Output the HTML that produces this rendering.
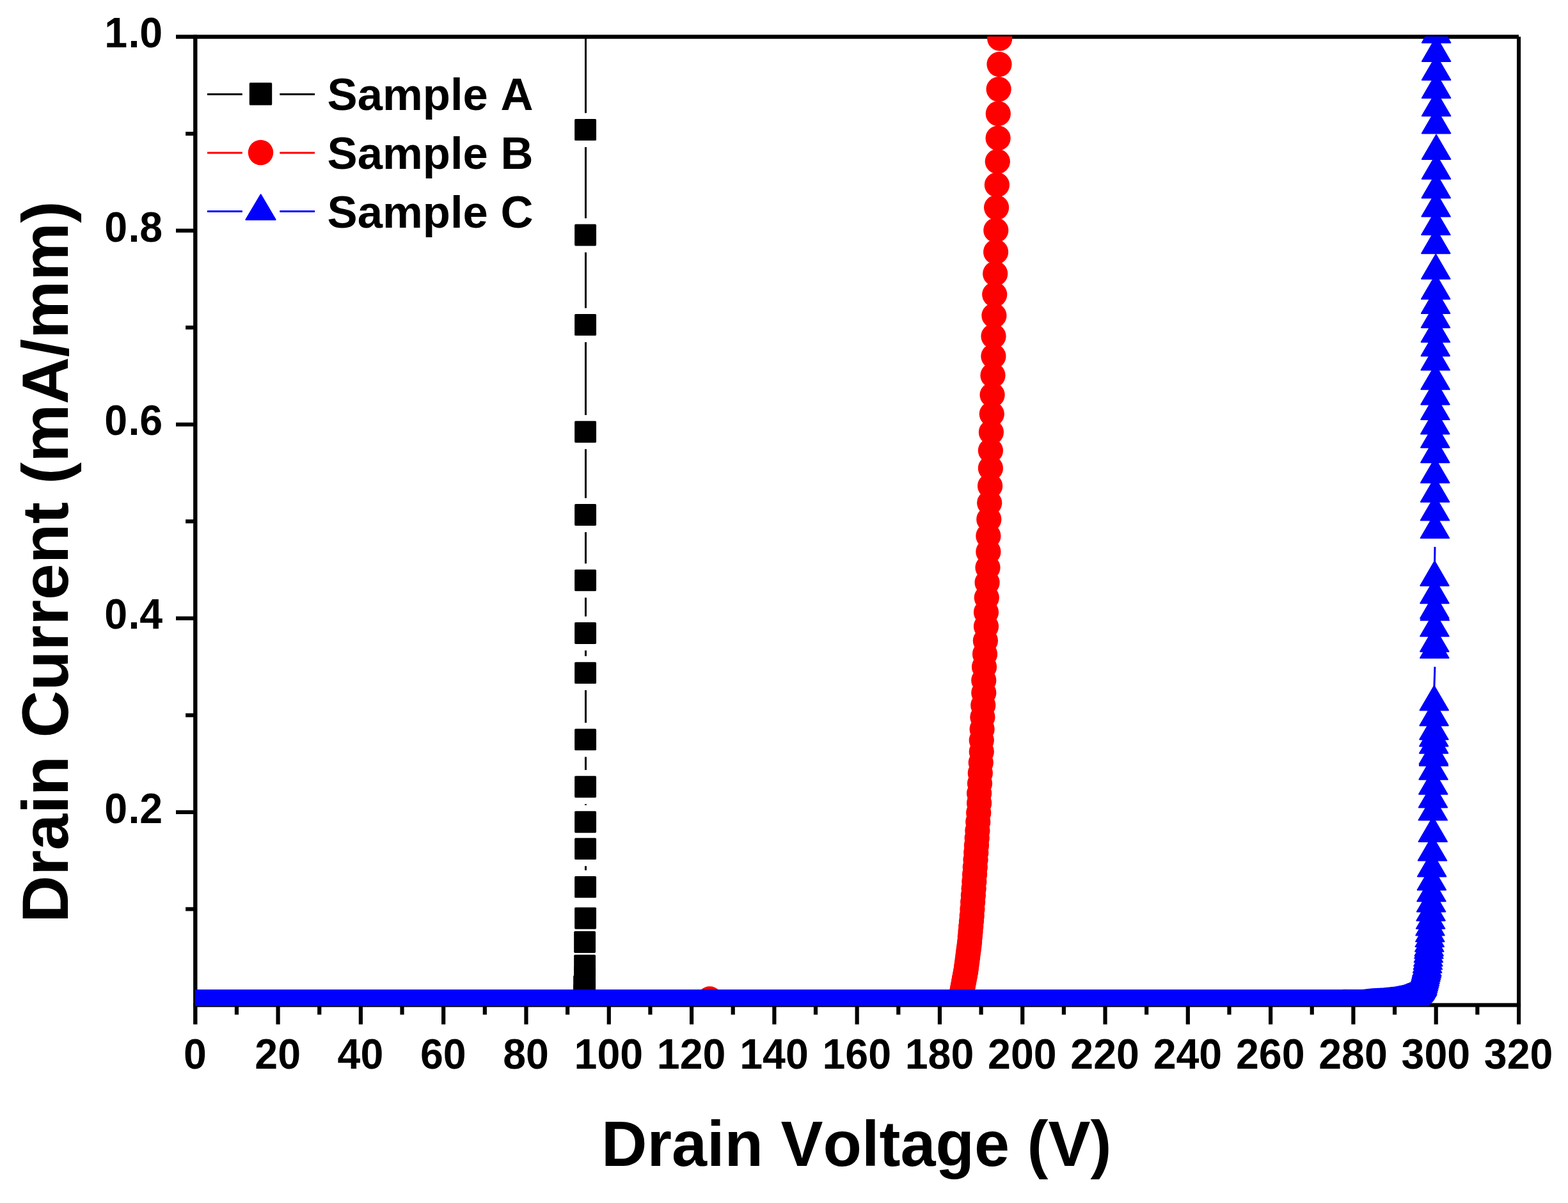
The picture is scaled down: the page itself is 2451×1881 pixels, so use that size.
<!DOCTYPE html>
<html lang="en"><head><meta charset="utf-8"><title>Drain Current vs Drain Voltage</title>
<style>html,body{margin:0;padding:0;background:#fff}svg{display:block}text{font-family:"Liberation Sans",Arial,Helvetica,sans-serif;font-weight:bold;fill:#000;font-kerning:none;font-variant-ligatures:none}</style>
</head><body>
<svg width="2451" height="1881" viewBox="0 0 2451 1881">
<rect width="2451" height="1881" fill="#fff"/>
<defs><clipPath id="c"><rect x="305.0" y="57.0" width="2071.0" height="1516.0"/></clipPath></defs>
<g fill="#000">
<rect x="275" y="54.35" width="2099" height="6.35"/>
<rect x="302.1" y="54.5" width="6.4" height="1547.2"/>
<rect x="302.15" y="1568.4" width="2074.95" height="6.2"/>
<rect x="2371" y="57.4" width="6.1" height="1544.3"/>
<rect x="366.85" y="1571.5" width="6.2" height="15"/>
<rect x="431.49" y="1571.5" width="6.2" height="30.2"/>
<rect x="496.14" y="1571.5" width="6.2" height="15"/>
<rect x="560.79" y="1571.5" width="6.2" height="30.2"/>
<rect x="625.43" y="1571.5" width="6.2" height="15"/>
<rect x="690.08" y="1571.5" width="6.2" height="30.2"/>
<rect x="754.73" y="1571.5" width="6.2" height="15"/>
<rect x="819.37" y="1571.5" width="6.2" height="30.2"/>
<rect x="884.02" y="1571.5" width="6.2" height="15"/>
<rect x="948.67" y="1571.5" width="6.2" height="30.2"/>
<rect x="1013.32" y="1571.5" width="6.2" height="15"/>
<rect x="1077.96" y="1571.5" width="6.2" height="30.2"/>
<rect x="1142.61" y="1571.5" width="6.2" height="15"/>
<rect x="1207.26" y="1571.5" width="6.2" height="30.2"/>
<rect x="1271.9" y="1571.5" width="6.2" height="15"/>
<rect x="1336.55" y="1571.5" width="6.2" height="30.2"/>
<rect x="1401.2" y="1571.5" width="6.2" height="15"/>
<rect x="1465.84" y="1571.5" width="6.2" height="30.2"/>
<rect x="1530.49" y="1571.5" width="6.2" height="15"/>
<rect x="1595.14" y="1571.5" width="6.2" height="30.2"/>
<rect x="1659.78" y="1571.5" width="6.2" height="15"/>
<rect x="1724.43" y="1571.5" width="6.2" height="30.2"/>
<rect x="1789.08" y="1571.5" width="6.2" height="15"/>
<rect x="1853.72" y="1571.5" width="6.2" height="30.2"/>
<rect x="1918.37" y="1571.5" width="6.2" height="15"/>
<rect x="1983.02" y="1571.5" width="6.2" height="30.2"/>
<rect x="2047.67" y="1571.5" width="6.2" height="15"/>
<rect x="2112.31" y="1571.5" width="6.2" height="30.2"/>
<rect x="2176.96" y="1571.5" width="6.2" height="15"/>
<rect x="2241.61" y="1571.5" width="6.2" height="30.2"/>
<rect x="2306.25" y="1571.5" width="6.2" height="15"/>
<rect x="290.1" y="1418.4" width="15.2" height="6.1"/>
<rect x="275" y="1266.85" width="30.3" height="6.1"/>
<rect x="290.1" y="1115.3" width="15.2" height="6.1"/>
<rect x="275" y="963.75" width="30.3" height="6.1"/>
<rect x="290.1" y="812.2" width="15.2" height="6.1"/>
<rect x="275" y="660.65" width="30.3" height="6.1"/>
<rect x="290.1" y="509.1" width="15.2" height="6.1"/>
<rect x="275" y="357.55" width="30.3" height="6.1"/>
<rect x="290.1" y="206" width="15.2" height="6.1"/>
</g>
<text transform="translate(304.9 1671) scale(1 1.045)" font-size="64.5" text-anchor="middle">0</text>
<text transform="translate(434.19 1671) scale(1 1.045)" font-size="64.5" text-anchor="middle">20</text>
<text transform="translate(563.49 1671) scale(1 1.045)" font-size="64.5" text-anchor="middle">40</text>
<text transform="translate(692.78 1671) scale(1 1.045)" font-size="64.5" text-anchor="middle">60</text>
<text transform="translate(822.07 1671) scale(1 1.045)" font-size="64.5" text-anchor="middle">80</text>
<text transform="translate(951.37 1671) scale(1 1.045)" font-size="64.5" text-anchor="middle">100</text>
<text transform="translate(1080.66 1671) scale(1 1.045)" font-size="64.5" text-anchor="middle">120</text>
<text transform="translate(1209.96 1671) scale(1 1.045)" font-size="64.5" text-anchor="middle">140</text>
<text transform="translate(1339.25 1671) scale(1 1.045)" font-size="64.5" text-anchor="middle">160</text>
<text transform="translate(1468.54 1671) scale(1 1.045)" font-size="64.5" text-anchor="middle">180</text>
<text transform="translate(1597.84 1671) scale(1 1.045)" font-size="64.5" text-anchor="middle">200</text>
<text transform="translate(1727.13 1671) scale(1 1.045)" font-size="64.5" text-anchor="middle">220</text>
<text transform="translate(1856.42 1671) scale(1 1.045)" font-size="64.5" text-anchor="middle">240</text>
<text transform="translate(1985.72 1671) scale(1 1.045)" font-size="64.5" text-anchor="middle">260</text>
<text transform="translate(2115.01 1671) scale(1 1.045)" font-size="64.5" text-anchor="middle">280</text>
<text transform="translate(2244.31 1671) scale(1 1.045)" font-size="64.5" text-anchor="middle">300</text>
<text transform="translate(2373.6 1671) scale(1 1.045)" font-size="64.5" text-anchor="middle">320</text>
<text transform="translate(254.2 1286.7) scale(1 1.045)" font-size="64.5" text-anchor="end" dx="0 1.2 0">0.2</text>
<text transform="translate(254.2 982.9) scale(1 1.045)" font-size="64.5" text-anchor="end" dx="0 1.2 0">0.4</text>
<text transform="translate(254.2 679.9) scale(1 1.045)" font-size="64.5" text-anchor="end" dx="0 1.2 0">0.6</text>
<text transform="translate(254.2 378) scale(1 1.045)" font-size="64.5" text-anchor="end" dx="0 1.2 0">0.8</text>
<text transform="translate(254.2 74) scale(1 1.045)" font-size="64.5" text-anchor="end" dx="0 1.2 0">1.0</text>
<text transform="translate(940 1822.9) scale(1 1.005)" font-size="99.0" text-anchor="start">Drain Voltage (V)</text>
<text transform="translate(105.9 1442.8) rotate(-90) scale(1 1.005)" font-size="102.07" text-anchor="start">Drain Current (mA/mm)</text>
<g clip-path="url(#c)">
<g fill="#000">
<rect x="914" y="-172.9" width="3.0" height="349.6"/>
<rect x="914" y="230" width="3.0" height="111.3"/>
<rect x="914" y="394.6" width="3.0" height="87.1"/>
<rect x="914" y="535" width="3.0" height="114"/>
<rect x="914" y="702.3" width="3.0" height="76.5"/>
<rect x="914" y="832.1" width="3.0" height="49.1"/>
<rect x="914" y="934.5" width="3.0" height="29.3"/>
<rect x="914" y="1017.1" width="3.0" height="8.8"/>
<rect x="914" y="1079.2" width="3.0" height="51"/>
<rect x="914" y="1183.5" width="3.0" height="20.5"/>
<rect x="914" y="1257.3" width="3.0" height="1.7"/>
<rect x="914" y="1354.2" width="3.0" height="6.5"/>
<rect x="898.15" y="185.95" width="33.9" height="33.9" rx="1.6"/>
<rect x="898.15" y="350.55" width="33.9" height="33.9" rx="1.6"/>
<rect x="898.15" y="490.95" width="33.9" height="33.9" rx="1.6"/>
<rect x="898.15" y="658.25" width="33.9" height="33.9" rx="1.6"/>
<rect x="898.15" y="788.05" width="33.9" height="33.9" rx="1.6"/>
<rect x="898.15" y="890.45" width="33.9" height="33.9" rx="1.6"/>
<rect x="898.15" y="973.05" width="33.9" height="33.9" rx="1.6"/>
<rect x="898.15" y="1035.15" width="33.9" height="33.9" rx="1.6"/>
<rect x="898.15" y="1139.45" width="33.9" height="33.9" rx="1.6"/>
<rect x="898.15" y="1213.25" width="33.9" height="33.9" rx="1.6"/>
<rect x="898.15" y="1268.25" width="33.9" height="33.9" rx="1.6"/>
<rect x="898.15" y="1310.15" width="33.9" height="33.9" rx="1.6"/>
<rect x="898.15" y="1369.95" width="33.9" height="33.9" rx="1.6"/>
<rect x="898.15" y="1418.75" width="33.9" height="33.9" rx="1.6"/>
<rect x="897.15" y="1456.05" width="33.9" height="33.9" rx="1.6"/>
<rect x="897.15" y="1492.85" width="33.9" height="33.9" rx="1.6"/>
<rect x="897.15" y="1511.05" width="33.9" height="33.9" rx="1.6"/>
<rect x="896.15" y="1525.05" width="33.9" height="33.9" rx="1.6"/>
<rect x="897.15" y="1533.05" width="33.9" height="33.9" rx="1.6"/>
<rect x="896.15" y="1539.05" width="33.9" height="33.9" rx="1.6"/>
</g>
<g fill="#f00">
<circle cx="1562.7" cy="60.2" r="19.6"/>
<circle cx="1562" cy="100.6" r="19.6"/>
<circle cx="1561.1" cy="139.6" r="19.6"/>
<circle cx="1560.3" cy="177.7" r="19.6"/>
<circle cx="1560.1" cy="216" r="19.6"/>
<circle cx="1559.3" cy="252.5" r="19.6"/>
<circle cx="1558.4" cy="289" r="19.6"/>
<circle cx="1557.6" cy="324.6" r="19.6"/>
<circle cx="1556.8" cy="360" r="19.6"/>
<circle cx="1556.6" cy="393.9" r="19.6"/>
<circle cx="1555.7" cy="427.9" r="19.6"/>
<circle cx="1554.7" cy="460.6" r="19.6"/>
<circle cx="1553.9" cy="493.5" r="19.6"/>
<circle cx="1553" cy="525.8" r="19.6"/>
<circle cx="1552.9" cy="557.1" r="19.6"/>
<circle cx="1552" cy="586.9" r="19.6"/>
<circle cx="1551.1" cy="617.5" r="19.6"/>
<circle cx="1550.3" cy="647.3" r="19.6"/>
<circle cx="1549.4" cy="675.8" r="19.6"/>
<circle cx="1548.4" cy="704.5" r="19.6"/>
<circle cx="1548.4" cy="732.1" r="19.6"/>
<circle cx="1547.6" cy="759.8" r="19.6"/>
<circle cx="1546.7" cy="786.3" r="19.6"/>
<circle cx="1545.8" cy="812.1" r="19.6"/>
<circle cx="1544.9" cy="837.9" r="19.6"/>
<circle cx="1544.9" cy="862.7" r="19.6"/>
<circle cx="1544" cy="887.5" r="19.6"/>
<circle cx="1543.1" cy="910.8" r="19.6"/>
<circle cx="1542.3" cy="934.6" r="19.6"/>
<circle cx="1541.5" cy="957.3" r="19.6"/>
<circle cx="1541.5" cy="979.4" r="19.6"/>
<circle cx="1540.4" cy="1001.7" r="19.6"/>
<circle cx="1539.5" cy="1022.7" r="19.6"/>
<circle cx="1538.5" cy="1042.7" r="19.6"/>
<circle cx="1537.75" cy="1063.8" r="19.6"/>
<circle cx="1537.75" cy="1083.3" r="19.6"/>
<circle cx="1536.75" cy="1102.8" r="19.6"/>
<circle cx="1535.9" cy="1121.3" r="19.6"/>
<circle cx="1535.1" cy="1140" r="19.6"/>
<circle cx="1534.25" cy="1157.5" r="19.6"/>
<circle cx="1534.25" cy="1175.3" r="19.6"/>
<circle cx="1533.25" cy="1192.5" r="19.6"/>
<circle cx="1532.3" cy="1208.7" r="19.6"/>
<circle cx="1531.5" cy="1225" r="19.6"/>
<circle cx="1530.6" cy="1240.5" r="19.6"/>
<circle cx="1530.6" cy="1255.8" r="19.6"/>
<circle cx="1529.7" cy="1270.8" r="19.6"/>
<circle cx="1528.75" cy="1285" r="19.6"/>
<circle cx="1527.9" cy="1298.7" r="19.6"/>
<circle cx="1527.18" cy="1310.48" r="19.6"/>
<circle cx="1526.45" cy="1321.82" r="19.6"/>
<circle cx="1525.73" cy="1333.1" r="19.6"/>
<circle cx="1525" cy="1344.39" r="19.6"/>
<circle cx="1524.28" cy="1355.67" r="19.6"/>
<circle cx="1523.55" cy="1366.96" r="19.6"/>
<circle cx="1522.83" cy="1378.24" r="19.6"/>
<circle cx="1522.1" cy="1389.18" r="19.6"/>
<circle cx="1521.38" cy="1399.84" r="19.6"/>
<circle cx="1520.65" cy="1410.51" r="19.6"/>
<circle cx="1519.93" cy="1421.17" r="19.6"/>
<circle cx="1519.2" cy="1431.83" r="19.6"/>
<circle cx="1518.48" cy="1440.34" r="19.6"/>
<circle cx="1517.75" cy="1448.51" r="19.6"/>
<circle cx="1517.03" cy="1456.69" r="19.6"/>
<circle cx="1516.3" cy="1464.86" r="19.6"/>
<circle cx="1515.58" cy="1473.03" r="19.6"/>
<circle cx="1514.85" cy="1479.25" r="19.6"/>
<circle cx="1514.13" cy="1484.85" r="19.6"/>
<circle cx="1513.4" cy="1490.44" r="19.6"/>
<circle cx="1512.68" cy="1496.04" r="19.6"/>
<circle cx="1511.95" cy="1501.64" r="19.6"/>
<circle cx="1511.23" cy="1507.24" r="19.6"/>
<circle cx="1510.5" cy="1512.84" r="19.6"/>
<circle cx="1509.78" cy="1517.91" r="19.6"/>
<circle cx="1509.05" cy="1521.79" r="19.6"/>
<circle cx="1508.33" cy="1525.67" r="19.6"/>
<circle cx="1507.6" cy="1529.56" r="19.6"/>
<circle cx="1506.88" cy="1533.44" r="19.6"/>
<circle cx="1506.15" cy="1537.32" r="19.6"/>
<circle cx="1505.43" cy="1541.21" r="19.6"/>
<circle cx="1504.7" cy="1545.09" r="19.6"/>
<circle cx="1503.98" cy="1548.9" r="19.6"/>
<circle cx="1503.25" cy="1552.64" r="19.6"/>
<circle cx="1502.53" cy="1556.19" r="19.6"/>
<circle cx="1501.8" cy="1558" r="19.6"/>
<circle cx="1501.08" cy="1559.81" r="19.6"/>
<circle cx="1500.35" cy="1561.62" r="19.6"/>
<circle cx="1499.63" cy="1563.44" r="19.6"/>
<circle cx="1498.9" cy="1565.09" r="19.6"/>
<circle cx="1498.18" cy="1565.71" r="19.6"/>
<circle cx="1497.45" cy="1566.33" r="19.6"/>
<circle cx="1496.73" cy="1566.95" r="19.6"/>
<circle cx="1496" cy="1567.57" r="19.6"/>
<circle cx="1495.28" cy="1568.19" r="19.6"/>
<circle cx="1494.55" cy="1568.81" r="19.6"/>
<circle cx="1493.83" cy="1569.44" r="19.6"/>
<circle cx="1493.1" cy="1570.06" r="19.6"/>
<circle cx="1492.38" cy="1570.68" r="19.6"/>
<circle cx="1491.65" cy="1571.06" r="19.6"/>
<circle cx="1490.93" cy="1571.18" r="19.6"/>
<circle cx="1490.2" cy="1571.3" r="19.6"/>
<circle cx="1489.48" cy="1571.42" r="19.6"/>
<circle cx="1488.75" cy="1571.54" r="19.6"/>
<circle cx="1488.03" cy="1571.66" r="19.6"/>
<circle cx="1487.3" cy="1571.78" r="19.6"/>
<circle cx="1486.58" cy="1571.9" r="19.6"/>
<circle cx="1485.85" cy="1572.02" r="19.6"/>
<circle cx="1485.13" cy="1572.15" r="19.6"/>
<circle cx="1484.4" cy="1572.27" r="19.6"/>
<circle cx="1483.68" cy="1572.39" r="19.6"/>
<circle cx="1482.95" cy="1572.51" r="19.6"/>
<circle cx="1482.23" cy="1572.63" r="19.6"/>
<circle cx="1481.5" cy="1572.75" r="19.6"/>
<circle cx="1480.78" cy="1572.87" r="19.6"/>
<circle cx="1480.05" cy="1572.99" r="19.6"/>
<circle cx="1109.4" cy="1561.8" r="19.6"/>
</g>
<g fill="#00f" stroke="#00f" stroke-width="2" stroke-linejoin="round">
<rect x="300" y="1547.2" width="1805" height="40" stroke="none"/>
<path d="M2100 1548.17L2122.2 1586.27H2077.8zM2100.72 1548.17L2122.92 1586.27H2078.53zM2101.45 1548.17L2123.65 1586.27H2079.25zM2102.18 1548.17L2124.38 1586.27H2079.98zM2102.9 1548.17L2125.1 1586.27H2080.7zM2103.62 1548.17L2125.82 1586.27H2081.43zM2104.35 1548.17L2126.55 1586.27H2082.15zM2105.07 1548.17L2127.27 1586.27H2082.88zM2105.8 1548.17L2128 1586.27H2083.6zM2106.53 1548.17L2128.72 1586.27H2084.33zM2107.25 1548.17L2129.45 1586.27H2085.05zM2107.97 1548.17L2130.17 1586.27H2085.78zM2108.7 1548.17L2130.9 1586.27H2086.5zM2109.43 1548.17L2131.62 1586.27H2087.23zM2110.15 1548.17L2132.35 1586.27H2087.95zM2110.88 1548.17L2133.07 1586.27H2088.68zM2111.6 1548.17L2133.8 1586.27H2089.4zM2112.32 1548.17L2134.52 1586.27H2090.12zM2113.05 1548.17L2135.25 1586.27H2090.85zM2113.78 1548.17L2135.97 1586.27H2091.58zM2114.5 1548.17L2136.7 1586.27H2092.3zM2115.22 1548.17L2137.42 1586.27H2093.03zM2115.95 1548.17L2138.15 1586.27H2093.75zM2116.68 1548.17L2138.88 1586.27H2094.48zM2117.4 1548.17L2139.6 1586.27H2095.2zM2118.12 1548.17L2140.32 1586.27H2095.93zM2118.85 1548.17L2141.05 1586.27H2096.65zM2119.57 1548.17L2141.77 1586.27H2097.38zM2120.3 1548.17L2142.5 1586.27H2098.1zM2121.03 1548.17L2143.22 1586.27H2098.83zM2121.75 1548.17L2143.95 1586.27H2099.55zM2122.47 1548.17L2144.67 1586.27H2100.28zM2123.2 1548.17L2145.4 1586.27H2101zM2123.93 1548.17L2146.12 1586.27H2101.73zM2124.65 1548.17L2146.85 1586.27H2102.45zM2125.38 1548.17L2147.57 1586.27H2103.18zM2126.1 1548.17L2148.3 1586.27H2103.9zM2126.82 1548.17L2149.02 1586.27H2104.62zM2127.55 1548.17L2149.75 1586.27H2105.35zM2128.28 1548.17L2150.47 1586.27H2106.08zM2129 1548.17L2151.2 1586.27H2106.8zM2129.72 1548.12L2151.92 1586.22H2107.52zM2130.45 1548.03L2152.65 1586.13H2108.25zM2131.17 1547.94L2153.37 1586.04H2108.97zM2131.9 1547.85L2154.1 1585.95H2109.7zM2132.62 1547.76L2154.82 1585.86H2110.42zM2133.35 1547.67L2155.55 1585.77H2111.15zM2134.07 1547.58L2156.27 1585.68H2111.87zM2134.8 1547.49L2157 1585.59H2112.6zM2135.52 1547.4L2157.72 1585.5H2113.32zM2136.25 1547.32L2158.45 1585.42H2114.05zM2136.97 1547.23L2159.17 1585.33H2114.77zM2137.7 1547.14L2159.9 1585.24H2115.5zM2138.42 1547.05L2160.62 1585.15H2116.22zM2139.15 1546.96L2161.35 1585.06H2116.95zM2139.87 1546.87L2162.07 1584.97H2117.67zM2140.6 1546.78L2162.8 1584.88H2118.4zM2141.32 1546.69L2163.52 1584.79H2119.12zM2142.05 1546.61L2164.25 1584.71H2119.85zM2142.77 1546.52L2164.97 1584.62H2120.57zM2143.5 1546.43L2165.7 1584.53H2121.3zM2144.22 1546.36L2166.42 1584.46H2122.02zM2144.95 1546.32L2167.15 1584.42H2122.75zM2145.67 1546.28L2167.87 1584.38H2123.47zM2146.4 1546.25L2168.6 1584.35H2124.2zM2147.12 1546.21L2169.32 1584.31H2124.92zM2147.85 1546.18L2170.05 1584.28H2125.65zM2148.57 1546.14L2170.77 1584.24H2126.37zM2149.3 1546.1L2171.5 1584.2H2127.1zM2150.02 1546.07L2172.22 1584.17H2127.82zM2150.75 1546.03L2172.95 1584.13H2128.55zM2151.47 1546L2173.67 1584.1H2129.27zM2152.2 1545.96L2174.4 1584.06H2130zM2152.92 1545.93L2175.12 1584.03H2130.72zM2153.65 1545.89L2175.85 1583.99H2131.45zM2154.37 1545.85L2176.57 1583.95H2132.17zM2155.1 1545.82L2177.3 1583.92H2132.9zM2155.82 1545.78L2178.02 1583.88H2133.62zM2156.55 1545.75L2178.75 1583.85H2134.35zM2157.27 1545.71L2179.47 1583.81H2135.07zM2158 1545.67L2180.2 1583.77H2135.8zM2158.72 1545.64L2180.92 1583.74H2136.52zM2159.45 1545.6L2181.65 1583.7H2137.25zM2160.17 1545.57L2182.37 1583.67H2137.97zM2160.9 1545.53L2183.1 1583.63H2138.7zM2161.62 1545.5L2183.82 1583.6H2139.42zM2162.35 1545.45L2184.55 1583.55H2140.15zM2163.07 1545.38L2185.27 1583.48H2140.87zM2163.8 1545.3L2186 1583.4H2141.6zM2164.52 1545.23L2186.72 1583.33H2142.32zM2165.25 1545.15L2187.45 1583.25H2143.05zM2165.97 1545.07L2188.17 1583.17H2143.77zM2166.7 1545L2188.9 1583.1H2144.5zM2167.42 1544.92L2189.62 1583.02H2145.22zM2168.15 1544.85L2190.35 1582.95H2145.95zM2168.87 1544.77L2191.07 1582.87H2146.67zM2169.6 1544.7L2191.8 1582.8H2147.4zM2170.32 1544.62L2192.52 1582.72H2148.12zM2171.05 1544.55L2193.25 1582.65H2148.85zM2171.77 1544.47L2193.97 1582.57H2149.57zM2172.5 1544.4L2194.7 1582.5H2150.3zM2173.22 1544.32L2195.42 1582.42H2151.02zM2173.95 1544.25L2196.15 1582.35H2151.75zM2174.67 1544.17L2196.87 1582.27H2152.47zM2175.4 1544.1L2197.6 1582.2H2153.2zM2176.12 1544.02L2198.32 1582.12H2153.92zM2176.85 1543.95L2199.05 1582.05H2154.65zM2177.57 1543.87L2199.77 1581.97H2155.37zM2178.3 1543.8L2200.5 1581.9H2156.1zM2179.02 1543.72L2201.22 1581.82H2156.82zM2179.75 1543.64L2201.95 1581.74H2157.55zM2180.47 1543.57L2202.67 1581.67H2158.27zM2181.19 1543.43L2203.39 1581.53H2158.99zM2181.91 1543.29L2204.11 1581.39H2159.71zM2182.64 1543.15L2204.84 1581.25H2160.44zM2183.36 1543L2205.56 1581.1H2161.16zM2184.09 1542.86L2206.29 1580.96H2161.89zM2184.81 1542.72L2207.01 1580.82H2162.61zM2185.54 1542.57L2207.74 1580.67H2163.34zM2186.26 1542.43L2208.46 1580.53H2164.06zM2186.99 1542.29L2209.19 1580.39H2164.79zM2187.71 1542.15L2209.91 1580.25H2165.51zM2188.44 1542L2210.64 1580.1H2166.24zM2189.16 1541.86L2211.36 1579.96H2166.96zM2189.89 1541.72L2212.09 1579.82H2167.69zM2190.61 1541.57L2212.81 1579.67H2168.41zM2191.34 1541.43L2213.54 1579.53H2169.14zM2192.06 1541.29L2214.26 1579.39H2169.86zM2192.79 1541.14L2214.99 1579.24H2170.59zM2193.51 1541L2215.71 1579.1H2171.31zM2194.24 1540.85L2216.44 1578.95H2172.04zM2194.96 1540.57L2217.16 1578.67H2172.76zM2195.69 1540.29L2217.89 1578.39H2173.49zM2196.41 1540L2218.61 1578.1H2174.21zM2197.14 1539.72L2219.34 1577.82H2174.94zM2197.86 1539.44L2220.06 1577.54H2175.66zM2198.59 1539.15L2220.79 1577.25H2176.39zM2199.31 1538.87L2221.51 1576.97H2177.11zM2200.04 1538.59L2222.24 1576.69H2177.84zM2200.76 1538.3L2222.96 1576.4H2178.56zM2201.49 1538.02L2223.69 1576.12H2179.29zM2202.21 1537.74L2224.41 1575.84H2180.01zM2202.94 1537.45L2225.14 1575.55H2180.74zM2203.66 1537.17L2225.86 1575.27H2181.46zM2204.39 1536.88L2226.59 1574.98H2182.19zM2205.11 1536.6L2227.31 1574.7H2182.91zM2205.8 1536.24L2228 1574.34H2183.6zM2206.52 1535.84L2228.72 1573.94H2184.32zM2207.25 1535.44L2229.45 1573.54H2185.05zM2207.97 1535.04L2230.17 1573.14H2185.77zM2208.7 1534.65L2230.9 1572.75H2186.5zM2209.42 1534.25L2231.62 1572.35H2187.22zM2210.15 1533.85L2232.35 1571.95H2187.95zM2210.78 1533.32L2232.98 1571.42H2188.58zM2211.5 1532.63L2233.7 1570.73H2189.3zM2212.23 1531.95L2234.43 1570.05H2190.03zM2212.95 1531.26L2235.15 1569.36H2190.75zM2213.68 1530.58L2235.88 1568.68H2191.48zM2214.4 1529.89L2236.6 1567.99H2192.2zM2215.13 1529.21L2237.33 1567.31H2192.93zM2215.85 1528.52L2238.05 1566.62H2193.65zM2216.58 1527.83L2238.78 1565.93H2194.38zM2217.3 1527.15L2239.5 1565.25H2195.1zM2217.9 1526.37L2240.1 1564.47H2195.7zM2218.63 1525.17L2240.83 1563.27H2196.43zM2219.35 1523.97L2241.55 1562.07H2197.15zM2220.08 1522.77L2242.28 1560.87H2197.88zM2220.8 1521.57L2243 1559.67H2198.6zM2221.53 1520.37L2243.73 1558.47H2199.33zM2222.25 1519.17L2244.45 1557.27H2200.05zM2222.98 1517.97L2245.18 1556.07H2200.78zM2223.4 1516.64L2245.6 1554.74H2201.2zM2224.12 1513.88L2246.32 1551.98H2201.92zM2224.85 1511.12L2247.05 1549.22H2202.65zM2225.57 1508.36L2247.77 1546.46H2203.37zM2226.3 1505.6L2248.5 1543.7H2204.1zM2226.98 1502.83L2249.18 1540.93H2204.78zM2227.7 1499.64L2249.9 1537.74H2205.5zM2228.43 1496.44L2250.63 1534.54H2206.23zM2229.16 1493.58L2251.36 1531.68H2206.96zM2229.88 1490.72L2252.08 1528.82H2207.68zM2230.43 1487.82L2252.63 1525.92H2208.23zM2231.16 1482.67L2253.36 1520.77H2208.96zM2231.88 1477.51L2254.08 1515.61H2209.68zM2232.38 1472.33L2254.58 1510.43H2210.18zM2232.9 1466.31L2255.1 1504.41H2210.7zM2233.42 1460.29L2255.62 1498.39H2211.22z"/>
<path d="M2243 855.13L2242.6 879.33" stroke="#00f" stroke-width="3.0" fill="none"/>
<path d="M2242.9 1042.63L2241.9 1074.13" stroke="#00f" stroke-width="3.0" fill="none"/>
<path d="M2245.1 28.6L2267.3 66.7H2222.9zM2245.1 57.8L2267.3 95.9H2222.9zM2245.1 86.9L2267.3 125H2222.9zM2245.1 115.1L2267.3 153.2H2222.9zM2245.1 143.2L2267.3 181.3H2222.9zM2245.1 170.3L2267.3 208.4H2222.9zM2245.1 210.9L2267.3 249H2222.9zM2245 241.7L2267.2 279.8H2222.8zM2244.8 271.3L2267 309.4H2222.6zM2244.6 300.5L2266.8 338.6H2222.4zM2244.4 329L2266.6 367.1H2222.2zM2244.3 358.1L2266.5 396.2H2222.1zM2244.3 397.8L2266.5 435.9H2222.1zM2244.2 429.4L2266.4 467.5H2222zM2244.1 451.9L2266.3 490H2221.9zM2244 474.2L2266.2 512.3H2221.8zM2243.9 496.7L2266.1 534.8H2221.7zM2243.8 518.4L2266 556.5H2221.6zM2243.7 540.5L2265.9 578.6H2221.5zM2243.6 570.7L2265.8 608.8H2221.4zM2243.5 594.4L2265.7 632.5H2221.3zM2243.4 618L2265.6 656.1H2221.2zM2243.3 640.3L2265.5 678.4H2221.1zM2243.3 661.7L2265.5 699.8H2221.1zM2243.3 685.1L2265.5 723.2H2221.1zM2243.2 716.7L2265.4 754.8H2221zM2243.1 746.7L2265.3 784.8H2220.9zM2243 775.5L2265.2 813.6H2220.8zM2242.9 803.2L2265.1 841.3H2220.7zM2242.5 877.6L2264.7 915.7H2220.3zM2242.5 905.1L2264.7 943.2H2220.3zM2242.4 928.6L2264.6 966.7H2220.2zM2242.8 931.7L2265 969.8H2220.6zM2242.4 956.7L2264.6 994.8H2220.2zM2242.3 980.7L2264.5 1018.8H2220.1zM2242.3 990.7L2264.5 1028.8H2220.1zM2241.8 1072.4L2264 1110.5H2219.6zM2241.6 1096.3L2263.8 1134.4H2219.4zM2241.4 1118.2L2263.6 1156.3H2219.2zM2241.3 1128.6L2263.5 1166.7H2219.1zM2241.2 1139.65L2263.4 1177.75H2219zM2240.8 1156.7L2263 1194.8H2218.6zM2241 1159.2L2263.2 1197.3H2218.8zM2240.6 1180.7L2262.8 1218.8H2218.4zM2240.3 1203.6L2262.5 1241.7H2218.1zM2240 1224.4L2262.2 1262.5H2217.8zM2239.8 1244.2L2262 1282.3H2217.6zM2239.8 1277.8L2262 1315.9H2217.6zM2239 1307.5L2261.2 1345.6H2216.8zM2238.2 1332.3L2260.4 1370.4H2216zM2237.9 1353.4L2260.1 1391.5H2215.7zM2237.5 1371.1L2259.7 1409.2H2215.3zM2237.1 1387.3L2259.3 1425.4H2214.9zM2236.6 1401.4L2258.8 1439.5H2214.4zM2236.1 1413.9L2258.3 1452H2213.9zM2235.5 1424.3L2257.7 1462.4H2213.3zM2235.3 1434.1L2257.5 1472.2H2213.1zM2234.8 1442.15L2257 1480.25H2212.6zM2234.3 1449.65L2256.5 1487.75H2212.1zM2233.75 1456.4L2255.95 1494.5H2211.55z"/>
</g>
</g>
<g>
<rect x="324" y="145.9" width="54.8" height="3" fill="#000"/>
<rect x="437.3" y="145.9" width="54.7" height="3" fill="#000"/>
<rect x="324" y="237.5" width="54.8" height="3" fill="#f00"/>
<rect x="437.3" y="237.5" width="54.7" height="3" fill="#f00"/>
<rect x="324" y="329" width="54.8" height="3" fill="#00f"/>
<rect x="437.3" y="329" width="54.7" height="3" fill="#00f"/>
<rect x="389.8" y="129.2" width="35.4" height="35.4" rx="1.6" fill="#000"/>
<circle cx="407.5" cy="238.5" r="19.7" fill="#f00"/>
<path d="M407.6 304.2L430.7 343.5H384.3z" fill="#00f" stroke="#00f" stroke-width="2" stroke-linejoin="round"/>
</g>
<text transform="translate(511.5 171.8) scale(1 1.005)" font-size="70.7" text-anchor="start">Sample A</text>
<text transform="translate(511.5 263.9) scale(1 1.005)" font-size="70.7" text-anchor="start">Sample B</text>
<text transform="translate(511.5 355.8) scale(1 1.005)" font-size="70.7" text-anchor="start">Sample C</text>
</svg>
</body></html>
